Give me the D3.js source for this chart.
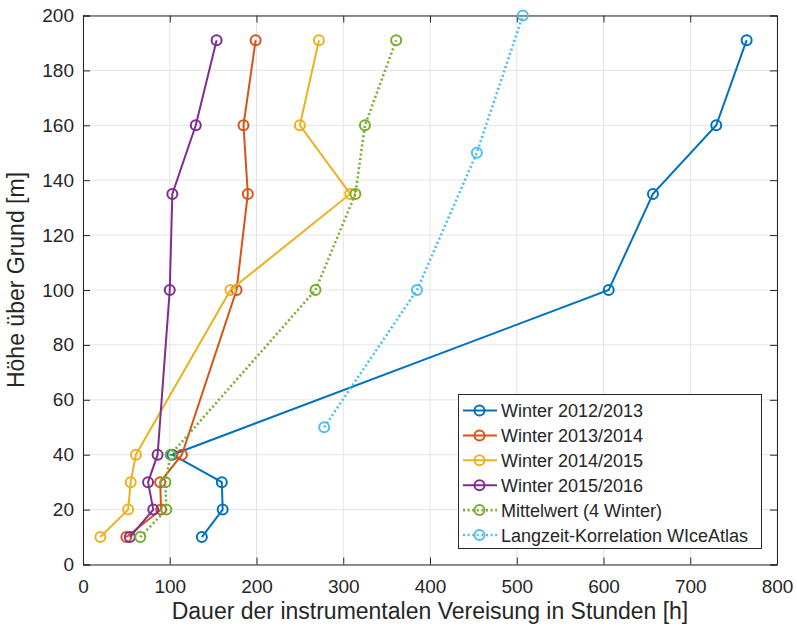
<!DOCTYPE html>
<html><head><meta charset="utf-8">
<script src="https://cdn.jsdelivr.net/npm/d3@7"></script>
<style>body{margin:0;background:#fff}svg{display:block}text{font-family:"Liberation Sans",Arial,sans-serif;fill:#262626}</style>
</head><body><svg id="c" width="797" height="629"></svg>
<script>
const heights = [10, 20, 30, 40, 100, 135, 160, 191];
const w1213 = [137, 161, 160, 103, 606, 657, 730, 765];
const w1314 = [50, 90, 89, 114, 177, 190, 185, 199];
const w1415 = [20, 52, 55, 61, 170, 308, 250, 272];
const w1516 = [54, 81, 75, 86, 100, 103, 130, 154];
const mean4 = [66, 96, 95, 101, 268, 314, 325, 361];
const ltHeights = [50, 100, 150, 200];
const ltValues = [278, 385, 454, 507];
const xTicks = [0, 100, 200, 300, 400, 500, 600, 700, 800];
const yTicks = [0, 20, 40, 60, 80, 100, 120, 140, 160, 180, 200];
const seriesNames = ["Winter 2012/2013", "Winter 2013/2014", "Winter 2014/2015", "Winter 2015/2016", "Mittelwert (4 Winter)", "Langzeit-Korrelation WIceAtlas"];
const colors = ["#0072BD", "#D95319", "#EDB120", "#7E2F8E", "#77AC30", "#4DBEEE"];
const xLabel = "Dauer der instrumentalen Vereisung in Stunden [h]";
const yLabel = "Höhe über Grund [m]";

const series = [
  {name: seriesNames[0], xs: w1213, ys: heights, dotted: false},
  {name: seriesNames[1], xs: w1314, ys: heights, dotted: false},
  {name: seriesNames[2], xs: w1415, ys: heights, dotted: false},
  {name: seriesNames[3], xs: w1516, ys: heights, dotted: false},
  {name: seriesNames[4], xs: mean4, ys: heights, dotted: true},
  {name: seriesNames[5], xs: ltValues, ys: ltHeights, dotted: true}
];

const L = 83, R = 777, T = 15.5, B = 564.5;
const svg = d3.select("#c");
const x = d3.scaleLinear().domain([0, 800]).range([L, R]);
const y = d3.scaleLinear().domain([0, 200]).range([B, T]);

// grid
const g = svg.append("g");
g.selectAll("line.gx").data(xTicks).join("line")
  .attr("x1", d => x(d)).attr("x2", d => x(d)).attr("y1", T).attr("y2", B)
  .attr("stroke", "#e4e4e4").attr("stroke-width", 1);
g.selectAll("line.gy").data(yTicks).join("line")
  .attr("y1", d => y(d)).attr("y2", d => y(d)).attr("x1", L).attr("x2", R)
  .attr("stroke", "#e4e4e4").attr("stroke-width", 1);

// axes
const ax = svg.append("g").attr("transform", `translate(0,${B})`)
  .call(d3.axisBottom(x).tickValues(xTicks).tickSize(-7).tickPadding(15).tickFormat(d3.format("d")));
const axT = svg.append("g").attr("transform", `translate(0,${T})`)
  .call(d3.axisTop(x).tickValues(xTicks).tickSize(-7).tickFormat(""));
const ay = svg.append("g").attr("transform", `translate(${L},0)`)
  .call(d3.axisLeft(y).tickValues(yTicks).tickSize(-7).tickPadding(9).tickFormat(d3.format("d")));
const ayR = svg.append("g").attr("transform", `translate(${R},0)`)
  .call(d3.axisRight(y).tickValues(yTicks).tickSize(-7).tickFormat(""));
[ax, axT, ay, ayR].forEach(a => {
  a.select(".domain").attr("stroke", "#262626").attr("stroke-width", 1);
  a.selectAll(".tick line").attr("stroke", "#262626");
  a.selectAll(".tick text").style("font-size", "19px").attr("fill", "#262626");
});

// lines
const line = d3.line().x(d => x(d[0])).y(d => y(d[1]));
series.forEach((s, i) => {
  const pts = s.xs.map((v, j) => [v, s.ys[j]]);
  svg.append("path").datum(pts).attr("d", line).attr("fill", "none")
    .attr("stroke", colors[i]).attr("stroke-width", s.dotted ? 2.6 : 2)
    .attr("stroke-dasharray", s.dotted ? "2,2.6" : null);
  svg.append("g").selectAll("circle").data(pts).join("circle")
    .attr("cx", d => x(d[0])).attr("cy", d => y(d[1])).attr("r", 5)
    .attr("fill", "none").attr("stroke", colors[i]).attr("stroke-width", 2);
});

// labels
svg.append("text").attr("x", (L + R) / 2).attr("y", 619).attr("text-anchor", "middle")
  .style("font-size", "23px").text(xLabel);
svg.append("text").attr("transform", `translate(24,280) rotate(-90)`).attr("text-anchor", "middle")
  .style("font-size", "23px").text(yLabel);

// legend
const lg = svg.append("g");
lg.append("rect").attr("x", 458.5).attr("y", 394.5).attr("width", 303).attr("height", 154)
  .attr("fill", "#fff").attr("stroke", "#262626").attr("stroke-width", 1);
series.forEach((s, i) => {
  const cy = 410.5 + i * 24.9;
  lg.append("line").attr("x1", 463).attr("x2", 497).attr("y1", cy).attr("y2", cy)
    .attr("stroke", colors[i]).attr("stroke-width", s.dotted ? 2.6 : 2)
    .attr("stroke-dasharray", s.dotted ? "2,2.6" : null);
  lg.append("circle").attr("cx", 479.5).attr("cy", cy).attr("r", 5)
    .attr("fill", "none").attr("stroke", colors[i]).attr("stroke-width", 2);
  lg.append("text").attr("x", 501).attr("y", cy + 6.5).style("font-size", "18px").text(s.name);
});
</script></body></html>
